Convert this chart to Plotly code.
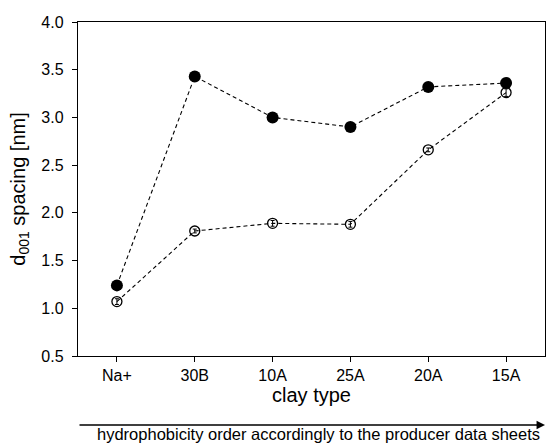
import plotly.graph_objects as go

categories = ["Na+", "30B", "10A", "25A", "20A", "15A"]
filled_values = [1.24, 3.43, 3.00, 2.90, 3.32, 3.36]
open_values = [1.07, 1.81, 1.89, 1.88, 2.66, 3.26]
open_errors = [0.03, 0.02, 0.03, 0.03, 0.02, 0.04]
y_ticks = [0.5, 1.0, 1.5, 2.0, 2.5, 3.0, 3.5, 4.0]

font = "Liberation Sans, Arial, sans-serif"

fig = go.Figure()
fig.add_trace(go.Scatter(
    x=list(range(len(categories))), y=open_values, mode="lines+markers",
    line=dict(color="black", width=1.1, dash="4px,3px"),
    marker=dict(symbol="circle-open", size=10, color="black", line=dict(width=1.3)),
    error_y=dict(type="data", array=open_errors, color="black", thickness=1, width=2),
    showlegend=False))
fig.add_trace(go.Scatter(
    x=list(range(len(categories))), y=filled_values, mode="lines+markers",
    line=dict(color="black", width=1.1, dash="4px,3px"),
    marker=dict(symbol="circle", size=12, color="black"),
    showlegend=False))

fig.update_layout(
    width=546, height=444,
    margin=dict(l=78, r=1, t=22, b=88),
    plot_bgcolor="white", paper_bgcolor="white",
    font=dict(family=font, color="black", size=16),
    xaxis=dict(range=[-0.5, 5.5], tickmode="array",
               tickvals=list(range(len(categories))), ticktext=categories,
               ticks="outside", ticklen=5, tickwidth=1.2, tickcolor="black",
               showline=True, linecolor="black", linewidth=1.4, mirror=True,
               showgrid=False, zeroline=False,
               title=dict(text="clay type", font=dict(size=20), standoff=3)),
    yaxis=dict(range=[0.5, 4.0], tickmode="array", tickvals=y_ticks,
               ticktext=[f"{v:.1f}" for v in y_ticks],
               ticks="outside", ticklen=5, tickwidth=1.2, tickcolor="black",
               ticklabelstandoff=5,
               showline=True, linecolor="black", linewidth=1.4, mirror=True,
               showgrid=False, zeroline=False,
               title=dict(text="d<sub>001</sub> spacing [nm]", font=dict(size=20), standoff=10)),
)

fig.add_annotation(x=1.0, y=-0.2066, ax=0.0, ay=-0.2066,
                   xref="x domain", yref="y domain", axref="x domain", ayref="y domain",
                   text="", showarrow=True, arrowhead=2, arrowsize=1.3,
                   arrowwidth=1.3, arrowcolor="black")
fig.add_annotation(x=0.516, y=-0.2635, xref="x domain", yref="y domain",
                   text="hydrophobicity order accordingly to the producer data sheets",
                   showarrow=False, yanchor="bottom", borderpad=0,
                   font=dict(size=16.5))

fig.write_html("out.html")
